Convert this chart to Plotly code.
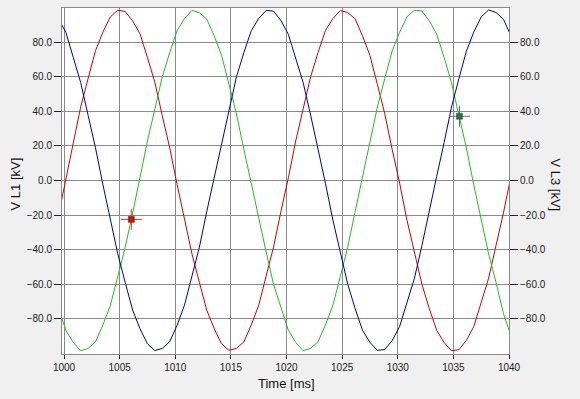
import plotly.graph_objects as go

# Time samples [ms]
time_ms = [999.5, 1000.17, 1000.83, 1001.5, 1002.17, 1002.83, 1003.5, 1004.17, 1004.83, 1005.5,
           1006.17, 1006.83, 1007.5, 1008.17, 1008.83, 1009.5, 1010.17, 1010.83, 1011.5, 1012.17,
           1012.83, 1013.5, 1014.17, 1014.83, 1015.5, 1016.17, 1016.83, 1017.5, 1018.17, 1018.83,
           1019.5, 1020.17, 1020.83, 1021.5, 1022.17, 1022.83, 1023.5, 1024.17, 1024.83, 1025.5,
           1026.17, 1026.83, 1027.5, 1028.17, 1028.83, 1029.5, 1030.17, 1030.83, 1031.5, 1032.17,
           1032.83, 1033.5, 1034.17, 1034.83, 1035.5, 1036.17, 1036.83, 1037.5, 1038.17, 1038.83,
           1039.5, 1040.17]

# Voltages [kV]
v_red = [-20.2, 1.5, 22.1, 42.6, 59.1, 75.2, 86.0, 94.8, 98.6, 97.9, 92.5, 84.9, 71.2, 56.8, 37.6,
         18.9, -2.4, -22.0, -42.5, -59.0, -75.1, -85.8, -94.7, -98.4, -97.2, -93.5, -83.7, -72.3, -55.8, -38.6,
         -17.9, 1.6, 22.9, 41.5, 60.1, 74.0, 86.9, 93.8, 98.4, 97.3, 93.6, 83.8, 72.4, 55.7, 38.7,
         17.9, -1.5, -23.0, -41.4, -60.0, -74.1, -86.8, -93.9, -98.6, -98.0, -92.6, -84.7, -71.3, -56.6, -37.7,
         -18.8, 2.3]

v_blue = [93.6, 85.8, 71.3, 56.7, 37.7, 18.9, -2.5, -22.0, -42.4, -59.1, -75.0, -85.9, -94.6, -98.5, -97.3,
          -93.4, -83.8, -72.2, -55.8, -38.6,
          -18.0, 1.7, 22.8, 41.5, 60.0, 74.1, 86.7, 93.9, 98.5, 98.1, 92.6, 84.6, 71.4, 56.6, 37.8,
          18.8, -1.6, -22.9, -41.5, -60.0, -74.2, -86.7, -93.8, -98.4, -97.9, -92.7, -84.6, -71.4, -56.6, -37.8,
          -18.8, 2.4, 22.0, 42.4, 59.1, 74.9, 85.9, 94.7, 98.8, 97.3, 93.4, 83.8]

v_green = [-74.1, -86.8, -93.8, -98.6, -97.3, -93.5, -83.7, -72.3, -55.7, -38.7,
           -18.9, 1.6, 22.9, 41.4, 60.0, 74.0, 86.8, 93.8, 98.5, 97.2, 93.5, 83.8, 72.3, 55.7, 38.6,
           18.0, -1.6, -22.9, -41.4, -60.1, -74.0, -86.8, -93.8, -98.6, -97.2, -93.5, -83.7, -72.3, -55.8, -38.6,
           -18.0, 2.5, 22.0, 42.5, 59.0, 75.1, 85.8, 94.8, 98.6, 98.2, 92.5, 84.8, 71.2, 56.7, 37.6,
           18.9, -2.5, -22.0, -42.5, -59.0, -77.1, -89.8]

# Cursor markers (time, value)
cursor1 = (1006.05, -22.5)
cursor2 = (1035.55, 37.2)

y_ticks = [-80, -60, -40, -20, 0, 20, 40, 60, 80]
x_ticks = [1000, 1005, 1010, 1015, 1020, 1025, 1030, 1035, 1040]

fig = go.Figure()
fig.add_trace(go.Scatter(x=time_ms, y=v_red, mode="lines", line=dict(color="#d00000", width=1), showlegend=False))
fig.add_trace(go.Scatter(x=time_ms, y=v_green, mode="lines", line=dict(color="#20c020", width=1), showlegend=False))
fig.add_trace(go.Scatter(x=time_ms, y=v_blue, mode="lines", line=dict(color="#0000b0", width=1), showlegend=False))

# cursor crosses
fig.add_trace(go.Scatter(x=[cursor1[0]], y=[cursor1[1]], mode="markers", showlegend=False,
                         marker=dict(symbol="cross-thin", size=15, line=dict(color="#b04a2a", width=1))))
fig.add_trace(go.Scatter(x=[cursor1[0]], y=[cursor1[1]], mode="markers", showlegend=False,
                         marker=dict(symbol="square", size=6, color="#cc1010", line=dict(color="#800000", width=0.5))))
fig.add_trace(go.Scatter(x=[cursor2[0]], y=[cursor2[1]], mode="markers", showlegend=False,
                         marker=dict(symbol="cross-thin", size=15, line=dict(color="#5a7a6a", width=1))))
fig.add_trace(go.Scatter(x=[cursor2[0]], y=[cursor2[1]], mode="markers", showlegend=False,
                         marker=dict(symbol="square", size=6, color="#2f6f50", line=dict(color="#1f4f38", width=0.5))))
# dummy trace for right axis
fig.add_trace(go.Scatter(x=[None], y=[None], yaxis="y2", showlegend=False))

tickfont = dict(family="Liberation Sans, Arial, sans-serif", size=10, color="#222222")
axis_common = dict(showgrid=True, gridcolor="#8a8a8a", gridwidth=1, zeroline=False,
                   showline=True, linecolor="#8a8a8a", linewidth=1)
title_font = dict(family="Liberation Sans, Arial, sans-serif", size=13, color="#111111")

fig.update_layout(
    width=580, height=399,
    margin=dict(l=62, r=71, t=8, b=45),
    paper_bgcolor="#f0f0f0", plot_bgcolor="#ffffff",
    xaxis=dict(range=[999.82, 1040], tickvals=x_ticks, ticktext=[str(v) for v in x_ticks],
               ticks="outside", ticklen=4, tickcolor="#222222", tickfont=tickfont,
               mirror=True, **axis_common),
    yaxis=dict(range=[-100.5, 99.9], tickvals=y_ticks, tickformat=".1f",
               ticks="outside", ticklen=7, tickcolor="#222222", tickfont=tickfont,
               **axis_common),
    yaxis2=dict(range=[-100.5, 99.9], tickvals=y_ticks, tickformat=".1f", overlaying="y", side="right",
                ticks="outside", ticklen=8, tickcolor="#222222", tickfont=tickfont,
                showgrid=False, zeroline=False, showline=True, linecolor="#8a8a8a", linewidth=1),
    annotations=[
        dict(text="Time [ms]", xref="paper", yref="paper", x=0.503, y=-0.084, showarrow=False,
             xanchor="center", yanchor="middle", font=title_font),
        dict(text="V L1 [kV]", xref="paper", yref="paper", x=(15 - 62) / 447, y=0.49, showarrow=False,
             textangle=-90, xanchor="center", yanchor="middle", font=title_font),
        dict(text="V L3 [kV]", xref="paper", yref="paper", x=(556 - 62) / 447, y=0.49, showarrow=False,
             textangle=90, xanchor="center", yanchor="middle", font=title_font),
    ],
)

fig.write_html("out.html")
